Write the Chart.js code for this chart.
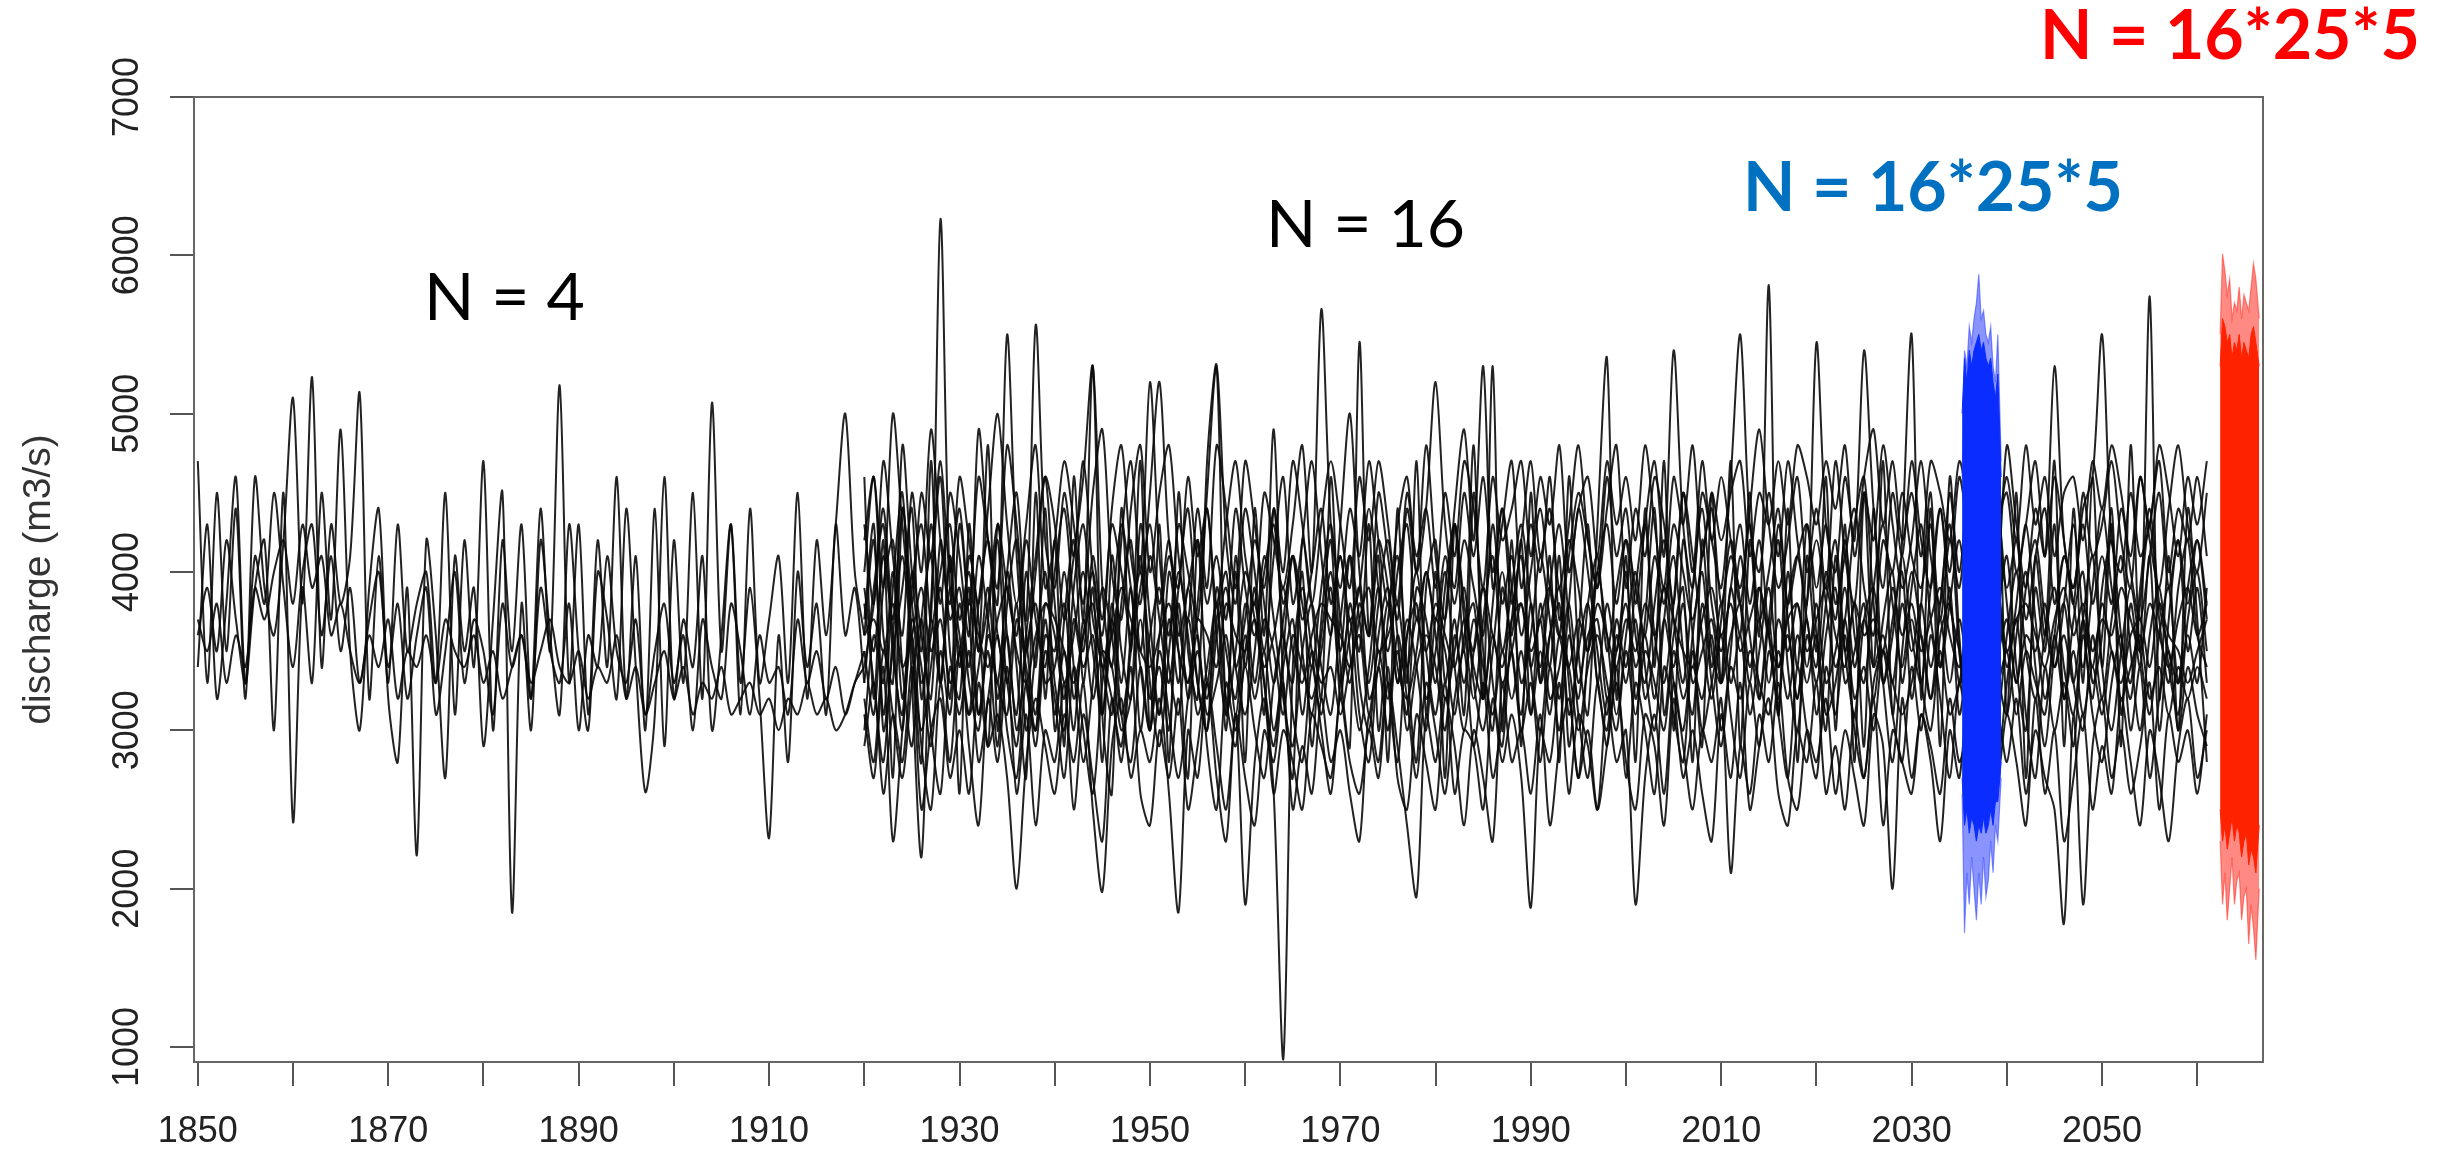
<!DOCTYPE html>
<html>
<head>
<meta charset="utf-8">
<title>discharge</title>
<script src="https://cdn.jsdelivr.net/npm/chart.js@4/dist/chart.umd.min.js"></script>
<style>
  html, body { margin: 0; padding: 0; background: #fff; }
  canvas { display: block; }
</style>
</head>
<body>
<canvas id="discharge" width="2443" height="1154"></canvas>
<script>
// axis ticks
const xTickValues = [1850, 1860, 1870, 1880, 1890, 1900, 1910, 1920, 1930, 1940, 1950, 1960, 1970, 1980, 1990, 2000, 2010, 2020, 2030, 2040, 2050, 2060];
const xTickLabels = [1850, 1870, 1890, 1910, 1930, 1950, 1970, 1990, 2010, 2030, 2050];
const yTickValues = [1000, 2000, 3000, 4000, 5000, 6000, 7000];

// 4 runs, 1850-1920, one value per year
const earlyStart = 1850;
const early1 = [
  4700,3300,4500,3500,4400,3200,4600,3900,3600,4200,
  5100,3800,5230,3400,4300,3800,4100,5130,3200,4100,
  3300,4300,3500,3800,4000,3300,4500,3100,4200,3400,
  4700,3000,4200,3500,4300,3200,4400,3500,5180,3300,
  4300,3100,4200,3400,4600,3200,4100,3000,4400,2900,
  4200,3300,4500,3200,5070,3500,4300,3100,4400,3300,
  3700,4100,3300,4500,3200,4200,3600,4300,5000,4000,
  3600];
const early2 = [
  3600,3900,3500,4200,3700,3300,4100,3800,4500,3900,
  3400,4000,4300,3600,4100,3500,3900,3300,3700,4000,
  3400,3800,3200,3600,3900,3100,3500,4000,3300,3700,
  3500,3100,3800,3400,3600,3200,3900,3500,3300,3800,
  3000,3600,3400,4100,3500,3300,3700,3100,3500,3800,
  3300,3600,3000,3700,3400,3200,3800,3500,3100,3600,
  3300,3400,3100,3700,3300,3500,3200,3400,3100,3300,
  3500];
const early3 = [
  3400,4300,3200,3800,4600,3300,3900,4200,3000,4500,
  2420,3900,3300,4500,3700,4900,3500,3000,3900,4400,
  3200,2800,3900,2210,4200,3600,2700,4100,3500,3900,
  2900,3700,4500,1850,3800,3000,4200,3600,3100,4300,
  3500,3000,4000,3700,3200,4400,3400,2610,3100,4600,
  3200,3700,3400,4100,3000,3600,4300,3300,3900,3200,
  2320,3600,2800,4000,3400,3800,3100,4300,3600,3900,
  3300];
const early4 = [
  3700,3500,3800,3300,3600,3400,3900,3700,4000,4200,
  3800,4300,3900,4100,3600,3800,3500,3300,3600,3400,
  3700,3200,3500,3400,3600,3300,3700,3500,3400,3600,
  3300,3500,3200,3400,3600,3300,3500,3700,3400,3300,
  3500,3200,3400,3300,3600,3200,3400,3100,3300,3500,
  3200,3400,3100,3300,3200,3400,3100,3200,3300,3100,
  3200,3000,3200,3100,3300,3100,3200,3000,3100,3300,
  3400];

// 16 runs, 1920-2061, one value per year
const lateStart = 1920;
const late1 = [
  3600,4200,3100,3900,4500,3300,2200,3800,4600,3500,
  3200,4100,3700,2900,4300,3600,3100,4000,3400,4400,
  3000,3700,4200,3300,3900,2800,4100,3500,3200,4300,
  3700,3100,4000,3500,2700,4200,3300,3800,3000,4100,
  3400,3900,3100,4400,3600,3300,4000,2900,3700,4200,
  3200,3800,3500,4300,3000,3700,4100,3400,2800,3900,
  4200,3300,3700,3100,4500,3500,3000,3900,3600,4200,
  3100,3800,3400,4100,2900,3600,4300,3300,3800,3500,
  4000,3200,3700,4400,3100,3600,3900,2800,4200,3500,
  3300,3900,3600,4500,3200,3700,3100,4000,3400,4300,
  3600,3000,4100,3500,3800,2900,4400,3300,3700,4000,
  3200,3800,4500,3400,3900,3100,3600,4200,3300,3700,
  4100,3400,3000,3900,3500,4300,3200,3700,4000,3300,
  3600,4400,3100,3800,3400,4100,3000,3700,4200,3500,
  3900,3300];
const late2 = [
  3400,3800,4400,3600,3000,3900,4300,3700,6230,3900,
  3500,3100,3800,4200,3600,3300,2900,3600,4100,4600,
  3800,3300,3600,4000,3500,3100,3700,4300,3900,3400,
  3000,3600,4100,3700,3300,3800,4400,3600,3100,3500,
  4000,3700,3300,2900,3500,4100,3800,3400,3900,4300,
  3700,3300,3800,3600,4200,3900,3300,3600,4000,3500,
  3100,3700,4300,3800,3400,3200,3800,4400,3900,3300,
  3600,4100,3700,3200,3800,4400,4000,3500,3100,3700,
  3400,3900,4300,3600,3300,3800,4500,4100,3600,3200,
  3700,4200,3800,3300,3900,3600,4300,3700,3200,3800,
  4200,3800,3400,3700,4300,4600,3800,3300,3600,4100,
  3600,3300,3900,4400,3800,3500,3100,3700,4200,3900,
  3400,3800,4300,3700,3200,3600,4100,3800,3400,3900,
  4400,3900,3500,3200,3800,4300,3700,3300,3900,4200,
  3600,3400];
const late3 = [
  3800,3300,2800,3600,4100,3500,3000,3400,3900,3200,
  4300,3700,3100,3500,2900,3800,4200,3300,3000,3600,
  3500,4000,3400,2800,3300,3900,3600,3100,3500,4100,
  3300,2900,3500,4000,3600,3100,3400,3800,3200,2900,
  3500,3800,3300,2600,920,3400,3900,3500,3100,3600,
  4100,3500,3000,3400,3900,3300,2800,3600,3800,3200,
  3500,4000,3400,3000,3500,3900,3300,2900,3700,4100,
  3400,3000,3600,3900,3300,2700,3500,4000,3600,3100,
  3600,4000,3400,3000,3700,4100,3500,3100,3800,3300,
  2900,3500,4100,3600,3200,3700,4200,3400,3000,3600,
  3300,3800,4200,3500,3100,3700,3900,3300,2800,3500,
  4000,3600,3200,3800,4300,3500,3000,3700,4100,3400,
  3100,3600,4000,3400,2900,3500,3800,3300,3000,3600,
  3200,3700,4100,3500,3000,3600,3900,3400,3100,3700,
  4000,3500];
const late4 = [
  4200,4600,3900,5000,4300,3800,4500,4100,4700,4000,
  4400,3800,4600,4200,3900,4800,4300,3700,5560,4200,
  3900,4500,4100,4700,4000,3600,4400,4800,4100,3800,
  4500,5200,4200,3900,4600,4100,4400,3800,4300,4700,
  4100,3800,4500,4200,3900,4300,4800,4000,5660,4300,
  3900,4400,4100,4700,4200,3800,4300,4600,4000,4400,
  5200,4300,3900,4500,4100,4600,4000,4400,3800,4200,
  4700,4100,4400,3900,4300,4800,4200,3900,4600,4100,
  4400,3800,4300,4700,4100,5400,4300,3900,4500,4200,
  3900,4600,5500,4300,4000,4500,4100,4700,4200,3800,
  5450,4300,4000,4600,4200,5400,4400,3900,4500,4100,
  4700,4200,3900,4400,4000,4600,4300,4800,4100,4300,
  4500,4000,4300,4700,4100,5300,4200,3900,4400,4600,
  5500,4200,4000,4500,4100,4300,4700,4000,4400,4200,
  4600,4100];
const late5 = [
  2900,3300,2600,3100,2800,3400,2500,3000,3200,2700,
  3000,2600,3300,2900,3100,2700,2000,2800,3200,2900,
  2600,3100,2800,3300,2500,1980,2900,3200,2700,3000,
  2800,3200,2600,1850,3000,2700,3300,2900,2500,3100,
  1900,2800,3200,2600,3000,2800,2500,3100,2900,2700,
  3200,2800,2600,3000,2700,3300,2900,2400,1950,3100,
  2800,3300,2600,3000,2900,2500,3200,2800,3100,2700,
  1880,3000,2800,3300,2600,3100,2900,2500,3200,2800,
  3000,1900,2700,3100,2600,3300,2900,2500,3000,2800,
  3200,2100,2900,2600,3100,2800,3300,2700,2500,3000,
  2800,3200,2600,3000,2700,2400,3100,2900,2000,3200,
  2700,3100,2900,2600,3200,2800,3000,2500,2900,3100,
  2800,3200,2600,3000,2700,2500,1780,3100,1900,2900,
  3200,2700,3000,2600,2900,3300,2500,3100,2800,3000,
  2600,3100];
const late6 = [
  3600,3700,3500,3800,3400,3600,3900,3500,3700,3300,
  3500,3800,3600,3400,3700,3900,3500,3300,3600,3800,
  3700,3500,3300,3600,3800,3400,3600,3900,3700,3500,
  3400,3600,3800,3500,3300,3700,3600,3400,3800,3600,
  3500,3700,3400,3600,3900,3500,3300,3600,3800,3700,
  3600,3400,3700,3900,3500,3600,3800,3400,3700,3500,
  3800,3600,3400,3700,3500,3900,3600,3400,3700,3800,
  3500,3700,3900,3600,3400,3700,3500,3800,3600,3400,
  3700,3500,3800,3600,3900,3700,3500,3400,3700,3900,
  3600,3800,3500,3700,3900,3600,3400,3700,3800,3500,
  3700,3900,3600,3400,3800,3600,3700,3500,3900,3600,
  3800,3500,3700,3900,3600,3400,3700,3800,3600,3900,
  3500,3700,3800,3600,3400,3700,3900,3600,3800,3500,
  3700,3600,3900,3700,3500,3800,3600,3400,3700,3900,
  3600,3800];
const late7 = [
  4600,3200,4200,2700,4400,3600,2800,4700,3300,4100,
  2600,4300,3500,4800,3000,4000,3400,2700,4500,3200,
  4200,2900,4600,3700,5300,3100,2600,4400,3500,4700,
  3000,4300,2800,4500,3500,3200,4700,5300,3100,4000,
  2800,4400,3600,4900,3300,2700,4200,3800,3200,4600,
  3400,2900,5450,3600,4100,2800,4400,3300,4700,3100,
  4000,2700,4300,3500,4800,3200,5300,3000,4200,2900,
  4500,3300,4100,2800,4600,3500,3100,4300,5350,3200,
  4100,2800,4400,3400,4700,3000,4200,3600,2900,4500,
  3300,4700,2900,4200,3600,5810,3100,4400,2800,4100,
  3500,4600,3000,4300,2800,4500,3400,4700,3100,4200,
  5500,3200,4400,2900,4600,3600,3000,4200,3400,4800,
  3100,4500,2700,4100,3600,4700,2900,4400,3300,4600,
  3400,4300,2900,4800,3500,5740,3200,4100,3000,4400,
  3700,2800];
const late8 = [
  3300,3900,4300,3500,3100,4000,3600,3200,4200,3700,
  3900,3400,4100,3700,3300,4000,4500,3600,3100,3800,
  3600,3200,3900,4300,3700,3400,3100,3800,4200,3500,
  4100,3700,3300,3900,4400,3600,3200,3700,4000,3400,
  3700,4200,3800,3300,3700,4100,3500,3100,3600,4000,
  3500,4100,3700,3300,3800,4200,3600,3100,3900,3700,
  3300,3900,4300,3700,3200,3700,4100,3500,3900,4300,
  3800,3400,3900,4300,3700,3200,3800,4100,3500,3900,
  4200,3600,3300,3800,4200,3700,3300,3900,4400,3800,
  3500,3900,4300,3800,4200,3600,3200,3800,4100,3700,
  3400,4000,3700,4200,3600,3300,3900,4300,3800,3400,
  3900,4300,3700,3400,3800,4200,3700,3300,3900,4400,
  3800,3300,3900,4200,3700,3400,3800,4300,3700,3200,
  3900,4200,3600,3300,3900,4400,3800,3500,3300,3900,
  4200,3700];
const late9 = [
  3200,2800,3500,3100,2700,3300,3700,3000,2600,3400,
  3100,3500,2800,3200,3600,3000,2700,3300,2900,3500,
  3200,2700,3400,3000,2600,3300,3700,3100,2800,3400,
  3000,3500,3100,2700,3200,3600,2900,2500,3300,3000,
  3400,3000,2700,3300,3600,3100,2800,3400,3000,2600,
  3300,3700,3100,2800,3400,3000,3600,3200,2700,3300,
  3000,2600,3200,3500,2900,3300,2700,3100,3500,3000,
  3300,2800,3400,3000,3600,3100,2700,3300,2900,3400,
  2700,3300,3000,2600,3400,3100,2800,3500,3000,3300,
  3600,3100,2700,3300,2900,3500,3100,2700,3400,3000,
  2700,3400,3100,3600,3000,2700,3300,3500,3100,2800,
  3400,3000,3600,3200,2700,3300,3000,3500,3100,2800,
  3300,3700,3100,2700,3400,3000,3300,2900,3600,3100,
  2800,3300,3600,3000,3400,2700,3200,3500,3000,3400,
  3100,2900];
const late10 = [
  4000,4600,3600,3300,4800,4000,3500,4300,3800,4500,
  4100,3600,4900,4200,3800,5500,4100,3500,4000,4600,
  4300,3700,4100,4600,5300,3900,3400,4200,4700,4000,
  5200,4100,3600,4300,4000,3700,4500,5300,4200,3800,
  4400,4000,3500,4100,4600,3800,4200,4700,4100,3600,
  4300,5000,4000,3600,4500,4100,3700,4400,4000,4800,
  4100,3700,4400,4900,4200,5300,3900,4300,4700,3900,
  4300,4000,4600,3700,4100,4500,4200,3900,4400,4800,
  3900,4400,4100,4600,4300,3800,4500,4000,4700,4200,
  4600,4200,3800,4400,4900,4300,3900,4200,4600,4000,
  4400,3900,4700,4100,3800,4500,4200,4800,4300,3900,
  4200,4700,4100,3800,4500,4000,4600,4900,4300,4000,
  4800,4300,3900,4400,4100,4600,4200,3800,4500,4100,
  4300,4700,4200,3900,4600,4200,3900,4400,4800,4300,
  4000,4500];
const late11 = [
  3500,3100,3900,4200,3400,2900,3700,4100,3300,3900,
  3600,3100,3400,3900,3200,3600,3000,3500,3800,3300,
  3400,3800,3200,3600,4000,3500,3200,2900,3600,4000,
  3500,3100,3700,3300,3900,3300,3000,3600,3900,3400,
  3100,3500,4100,3700,3200,2900,3500,3800,3400,3100,
  3700,4100,3300,3000,3600,3900,3400,3200,3500,4000,
  3600,3200,3500,3900,3300,3000,3500,4000,3500,3100,
  3800,3300,3600,3800,3100,3500,3800,3300,3000,3600,
  3300,3700,3200,3500,3900,3300,3000,3600,4000,3400,
  3800,3300,3600,3100,3500,3900,3400,3600,3200,3700,
  3100,3600,3900,3300,3500,3800,3200,3700,4000,3300,
  3700,3300,3000,3600,3800,3300,3500,3900,3600,3100,
  3600,4000,3500,3200,3600,3900,3400,3100,3700,4100,
  3400,3000,3500,3900,3500,3100,3600,3900,3300,3600,
  3300,3900];
const late12 = [
  3100,2700,3400,2300,3000,3600,2900,2500,3300,2800,
  3500,2900,2400,3200,2800,3400,2600,3100,2400,3000,
  2800,3300,2500,3100,2700,2300,3200,2800,3400,2600,
  2400,3000,2700,3200,2500,2900,3300,2700,2300,3100,
  2700,2400,3000,2800,3300,2500,2900,2600,3200,2800,
  3000,2600,2300,3100,2800,3400,2700,2500,3100,2800,
  2500,3200,2900,2400,3000,2700,2300,3300,2800,3000,
  2600,3100,2400,2900,3200,2700,3000,2500,2900,3300,
  2800,2500,3100,2900,2400,3200,2700,3000,2600,2300,
  3100,2700,3300,2500,2900,3200,2600,2400,3000,2800,
  3300,2600,2900,2500,3100,2700,3200,2400,3000,2800,
  2600,3100,2800,2300,3000,2700,3300,2500,2900,2700,
  3100,2800,2400,3200,2600,3000,2300,2700,3100,2500,
  2900,2600,3200,2800,2400,3000,2700,2300,2900,3200,
  2700,3000];
const late13 = [
  3900,3500,4100,3700,4400,3800,3300,3600,4000,4300,
  3700,4000,3500,3800,4300,3900,3600,4200,3700,3400,
  4000,4400,3800,3500,4100,3700,4300,4000,3600,3900,
  4300,3800,4200,3600,3900,4200,3800,4100,3700,4400,
  3900,3600,4000,4300,3800,4100,3700,4000,4400,3800,
  4100,3700,3900,4400,3900,3500,4000,4300,3700,4000,
  3700,4100,3800,4200,3900,3600,4300,3800,4100,3600,
  4000,4400,3900,3600,4200,3900,3500,4000,4300,3800,
  4200,3900,3600,4100,3800,4300,4000,3700,4100,4400,
  3800,4100,3900,4300,3700,4000,4400,3800,4100,4300,
  3900,4300,3800,4100,4400,3900,3600,4200,4000,4500,
  4100,3900,4300,3700,4200,3900,4400,4000,3800,4200,
  3900,4200,3700,4100,4400,3800,4100,3900,4300,3800,
  4100,3800,4400,4000,3700,4100,4500,3900,4200,3800,
  4200,3800];
const late14 = [
  3700,4300,3000,3500,3900,4400,3200,3700,3300,4100,
  3400,3900,3100,3700,4200,3300,3800,3000,3500,4000,
  3300,3000,3700,3400,3600,3100,3800,3300,3900,3000,
  3600,3900,3400,3100,3700,3300,3000,3900,3500,3200,
  3800,3300,3700,3500,3100,3600,3400,3200,3500,3900,
  3300,3600,3900,3200,3400,3800,3300,3700,3400,3000,
  3700,3500,3100,3600,3800,3200,3600,3300,3500,3800,
  3400,3700,3200,3400,3800,3300,3600,3700,3200,3500,
  3800,3400,3600,3200,3700,3400,3800,3300,3500,3700,
  3300,3600,3800,3400,3700,3300,3700,3500,3800,3400,
  3800,3300,3500,3900,3400,3700,3400,3600,3300,3800,
  3500,3800,3400,3700,3300,3700,3400,3600,3900,3500,
  3700,3300,3600,3500,3800,3400,3600,3300,3700,3400,
  3800,3500,3300,3600,3700,3400,3800,3600,3500,3300,
  3500,3700];
const late15 = [
  3000,3600,3300,4000,3200,3700,3400,2900,3500,3100,
  3800,3300,3000,3600,3300,3100,3700,3400,3000,3700,
  3100,3500,3000,3700,3200,3500,3400,3000,3200,3700,
  3200,3400,3000,3800,3200,3500,3100,3300,3600,3100,
  3600,3200,3500,3000,3400,3700,3100,3500,3300,3400,
  3100,3400,3600,3100,3500,3200,3500,3000,3400,3600,
  3400,3000,3600,3300,3700,3400,3100,3500,3200,3500,
  3100,3500,3100,3600,3400,3000,3400,3600,3300,3000,
  3500,3100,3500,3300,3000,3500,3200,3400,3200,3600,
  3000,3400,3200,3500,3300,3100,3500,3200,3600,3300,
  3600,3100,3300,3700,3200,3400,3000,3500,3300,3100,
  3300,3600,3200,3500,3100,3300,3600,3100,3400,3300,
  3500,3100,3500,3300,3100,3600,3200,3500,3100,3400,
  3100,3500,3200,3400,3600,3200,3400,3100,3400,3200,
  3400,3200];
const late16 = [
  4300,3800,4700,4100,3600,4500,4000,4900,4200,3800,
  4600,4200,3800,4400,5000,4300,3800,4300,4800,3900,
  4200,4700,4300,3800,4500,4900,4000,3700,4400,4800,
  4000,4500,4800,4100,3700,4400,3900,4800,4400,3900,
  4700,4300,3900,4400,4000,4700,4300,3800,4300,4700,
  4300,3900,4600,4200,4700,4300,3800,4500,4100,4400,
  3900,4500,4100,4700,4400,3900,4600,4200,4400,4700,
  4100,4600,4300,4800,4000,4400,4600,4100,4700,4300,
  4600,4200,4800,4300,3900,4600,4300,4800,4100,4500,
  4200,4500,4700,4100,4500,4300,4700,4300,4800,4600,
  4300,4700,4400,4800,4100,4600,4900,4300,4700,4200,
  4500,4100,4700,4500,4200,4700,4400,4100,4600,4300,
  4600,4200,4800,4300,4600,4100,4500,4600,4200,4700,
  4400,4800,4500,4100,4600,4300,4800,4500,4100,4600,
  4300,4700];

// 16*25*5 ensemble, 2035-2039: envelope of the blue runs
const blueYears = [2035.3, 2035.55, 2035.8, 2036.05, 2036.3, 2036.55, 2036.8, 2037.05, 2037.3, 2037.55, 2037.8, 2038.05, 2038.3, 2038.55, 2038.8, 2039.05, 2039.4];
const blueOuterTop = [4600, 5400, 5300, 5550, 5450, 5600, 5700, 5880, 5600, 5650, 5500, 5450, 5550, 5300, 5200, 5500, 4700];
const blueCoreTop = [5000, 5350, 5200, 5400, 5300, 5400, 5450, 5500, 5400, 5450, 5350, 5300, 5350, 5200, 5100, 5250, 4600];
const blueCoreBottom = [2700, 2400, 2500, 2350, 2450, 2400, 2300, 2400, 2350, 2450, 2350, 2400, 2500, 2400, 2550, 2550, 2800];
const blueOuterBottom = [2600, 1720, 2100, 1900, 2200, 2000, 1800, 2100, 1900, 2200, 1950, 2050, 2300, 2100, 2400, 2300, 2700];

// 16*25*5 ensemble, 2062-2066: envelope of the red runs
const redYears = [2062.4, 2062.65, 2062.9, 2063.15, 2063.4, 2063.65, 2063.9, 2064.15, 2064.4, 2064.65, 2064.9, 2065.15, 2065.4, 2065.65, 2065.9, 2066.15, 2066.5];
const redOuterTop = [5500, 6010, 5900, 5750, 5850, 5600, 5700, 5650, 5800, 5600, 5750, 5700, 5650, 5800, 5950, 5850, 5600];
const redCoreTop = [5300, 5600, 5550, 5450, 5500, 5350, 5450, 5400, 5500, 5350, 5450, 5400, 5350, 5500, 5550, 5450, 5300];
const redCoreBottom = [2500, 2300, 2400, 2250, 2350, 2450, 2300, 2400, 2350, 2200, 2300, 2350, 2150, 2250, 2200, 2100, 2400];
const redOuterBottom = [2300, 1900, 2100, 1800, 2000, 2200, 1900, 2050, 2100, 1800, 1950, 2000, 1650, 1900, 1750, 1550, 2000];

const earlyRuns = [early1, early2, early3, early4];
const lateRuns = [late1, late2, late3, late4, late5, late6, late7, late8, late9, late10, late11, late12, late13, late14, late15, late16];

// text drawn on the figure
const notes = [
  { text: 'N = 4', x: 424, y: 320, color: '#000000', weight: 'normal', size: 66 },
  { text: 'N = 16', x: 1266, y: 247, color: '#000000', weight: 'normal', size: 66 },
  { text: 'N = 16*25*5', x: 1743, y: 211, color: '#0070C0', weight: 'bold', size: 68 },
  { text: 'N = 16*25*5', x: 2040, y: 59, color: '#FF0000', weight: 'bold', size: 68 }
];

const toPoints = (start, values) => values.map((v, i) => ({ x: start + i, y: v }));
const pair = (xs, ys) => xs.map((x, i) => ({ x, y: ys[i] }));

const band = (xs, ys, color, width, fill) => ({
  data: pair(xs, ys),
  borderColor: color,
  backgroundColor: color,
  borderWidth: width,
  tension: 0,
  fill: fill
});

const datasets = [
  band(blueYears, blueCoreTop, '#0a2cff', 1, '+1'),
  band(blueYears, blueCoreBottom, '#0a2cff', 1, false),
  band(blueYears, blueOuterTop, 'rgba(40, 60, 255, 0.55)', 1.2, '+1'),
  band(blueYears, blueOuterBottom, 'rgba(40, 60, 255, 0.55)', 1.2, false),
  band(redYears, redCoreTop, '#ff2200', 1, '+1'),
  band(redYears, redCoreBottom, '#ff2200', 1, false),
  band(redYears, redOuterTop, 'rgba(255, 40, 30, 0.55)', 1.2, '+1'),
  band(redYears, redOuterBottom, 'rgba(255, 40, 30, 0.55)', 1.2, false)
];

const runStyle = { borderColor: 'rgba(10, 10, 10, 0.9)', borderWidth: 2, tension: 0.3, fill: false };
earlyRuns.forEach(run => datasets.push({ data: toPoints(earlyStart, run), ...runStyle }));
lateRuns.forEach(run => datasets.push({ data: toPoints(lateStart, run), ...runStyle }));

// frame, rotated y labels, axis title and the N = ... notes
const overlay = {
  id: 'overlay',
  afterDraw(chart) {
    const { ctx, chartArea: a } = chart;
    const y = chart.scales.y;
    ctx.save();
    ctx.strokeStyle = '#666';
    ctx.lineWidth = 2;
    ctx.strokeRect(a.left, a.top, a.right - a.left, a.bottom - a.top);

    ctx.fillStyle = '#222';
    ctx.font = '36px "Liberation Sans", Arial, sans-serif';
    ctx.textAlign = 'center';
    ctx.textBaseline = 'alphabetic';
    y.ticks.forEach(t => {
      ctx.save();
      ctx.translate(138, y.getPixelForValue(t.value));
      ctx.rotate(-Math.PI / 2);
      ctx.fillText(String(t.value), 0, 0);
      ctx.restore();
    });

    ctx.font = '39px "Liberation Sans", Arial, sans-serif';
    ctx.fillStyle = '#333';
    ctx.save();
    ctx.translate(50, (a.top + a.bottom) / 2);
    ctx.rotate(-Math.PI / 2);
    ctx.fillText('discharge (m3/s)', 0, 0);
    ctx.restore();

    ctx.textAlign = 'left';
    notes.forEach(n => {
      ctx.font = n.weight + ' ' + n.size + 'px Lato, "Open Sans", sans-serif';
      ctx.fillStyle = n.color;
      ctx.fillText(n.text, n.x, n.y);
    });
    ctx.restore();
  }
};

new Chart(document.getElementById('discharge').getContext('2d'), {
  type: 'line',
  data: { datasets },
  options: {
    responsive: false,
    animation: false,
    events: [],
    layout: { padding: { top: 97, right: 180, left: 0, bottom: 0 } },
    plugins: { legend: { display: false }, tooltip: { enabled: false } },
    elements: { point: { radius: 0 } },
    scales: {
      x: {
        type: 'linear',
        min: 1849.6,
        max: 2066.9,
        afterBuildTicks: s => { s.ticks = xTickValues.map(v => ({ value: v })); },
        afterFit: s => { s.height = 92; },
        border: { display: false },
        grid: { drawOnChartArea: false, drawTicks: true, tickLength: 24, tickColor: '#555', lineWidth: 2 },
        ticks: {
          autoSkip: false,
          maxRotation: 0,
          padding: 24,
          color: '#222',
          font: { family: '"Liberation Sans", Arial, sans-serif', size: 36 },
          callback: v => xTickLabels.includes(v) ? String(v) : ''
        }
      },
      y: {
        type: 'linear',
        min: 905,
        max: 7000,
        afterBuildTicks: s => { s.ticks = yTickValues.map(v => ({ value: v })); },
        afterFit: s => { s.width = 194; },
        border: { display: false },
        grid: { drawOnChartArea: false, drawTicks: true, tickLength: 24, tickColor: '#555', lineWidth: 2 },
        ticks: { display: false }
      }
    }
  },
  plugins: [overlay]
});
</script>
</body>
</html>
